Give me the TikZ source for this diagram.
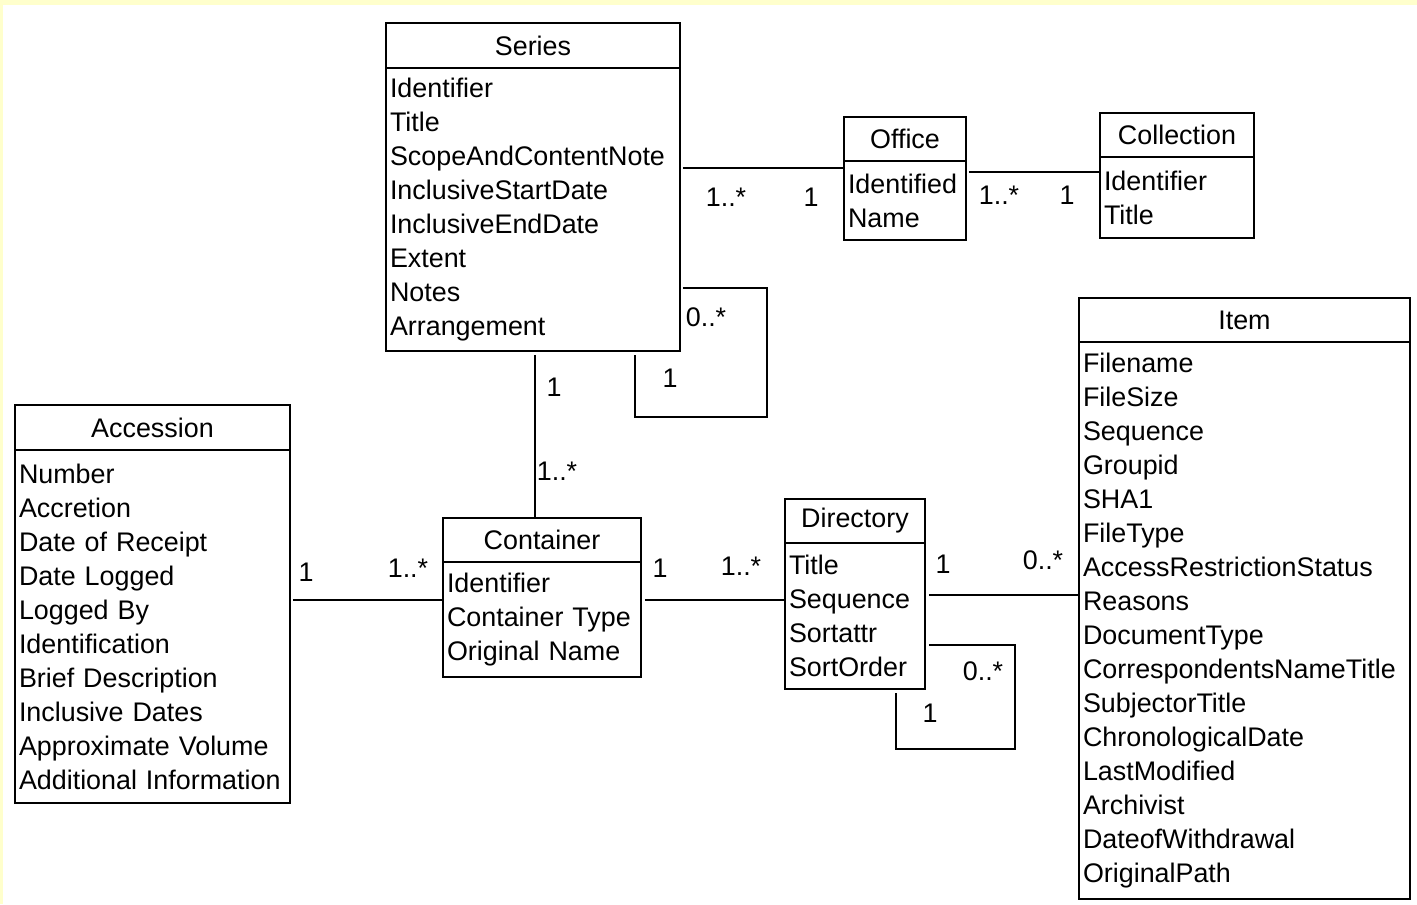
\documentclass[tikz,border=0pt]{standalone}
\usepackage{fontspec}
\setmainfont{Liberation Sans}
\usetikzlibrary{positioning, calc}

\definecolor{bgyellow}{RGB}{255,255,204}
\newcommand{\umlfont}{\fontsize{15.3}{19.35}\selectfont}

\tikzset{
    classhead/.style={draw, line width=1.1pt, anchor=north west, inner sep=0pt, outer sep=0pt, font=\umlfont},
    classbody/.style={draw, line width=1.1pt, anchor=north west, align=left, inner xsep=0.08cm, inner ysep=0pt, outer sep=0pt, font=\umlfont},
    assoc/.style={line width=1.1pt},
    mult/.style={font=\umlfont, inner sep=0pt},
}

\begin{document}
\begin{tikzpicture}[x=0.02cm, y=-0.02cm]
    \fill[bgyellow] (0,0) rectangle (1417,904); % Frame
    \fill[white] (3,5) rectangle (1417,904);
    \useasboundingbox (0,0) rectangle (1417,904);

    % Series
    \node[classhead, minimum width=5.88cm, minimum height=0.90cm] (series-h) at (386,23) {Series};
    \node[classbody, text width=5.72cm, minimum height=5.66cm] (series) at (series-h.south west)
        {Identifier\\Title\\ScopeAndContentNote\\InclusiveStartDate\\InclusiveEndDate\\Extent\\Notes\\Arrangement};

    % Office
    \node[classhead, minimum width=2.44cm, minimum height=0.88cm] (office-h) at (844,117) {Office};
    \node[classbody, text width=2.28cm, minimum height=1.58cm] (office) at (office-h.south west)
        {Identified\\Name};

    % Collection
    \node[classhead, minimum width=3.08cm, minimum height=0.88cm] (collection-h) at (1100,113) {Collection};
    \node[classbody, text width=2.92cm, minimum height=1.62cm] (collection) at (collection-h.south west)
        {Identifier\\Title};

    % Item
    \node[classhead, minimum width=6.62cm, minimum height=0.88cm] (item-h) at (1079,298) {Item};
    \node[classbody, text width=6.46cm, minimum height=11.14cm] (item) at (item-h.south west)
        {Filename\\FileSize\\Sequence\\Groupid\\SHA1\\FileType\\AccessRestrictionStatus\\Reasons\\DocumentType\\CorrespondentsNameTitle\\SubjectorTitle\\ChronologicalDate\\LastModified\\Archivist\\DateofWithdrawal\\OriginalPath};

    % Accession
    \node[classhead, minimum width=5.50cm, minimum height=0.90cm] (accession-h) at (15,405) {Accession};
    \node[classbody, text width=5.34cm, minimum height=7.06cm] (accession) at (accession-h.south west)
        {Number\\Accretion\\Date of Receipt\\Date Logged\\Logged By\\Identification\\Brief Description\\Inclusive Dates\\Approximate Volume\\Additional Information};

    % Container
    \node[classhead, minimum width=3.96cm, minimum height=0.88cm] (container-h) at (443,518) {Container};
    \node[classbody, text width=3.80cm, minimum height=2.30cm] (container) at (container-h.south west)
        {Identifier\\Container Type\\Original Name};

    % Directory
    \node[classhead, minimum width=2.80cm, minimum height=0.88cm] (directory-h) at (785,499) {Directory};
    \node[classbody, text width=2.64cm, minimum height=2.92cm] (directory) at (directory-h.south west)
        {Title\\Sequence\\Sortattr\\SortOrder};

    % Associations
    \draw[assoc] ($(series.east |- 0,168)+(3,0)$) -- (office.west |- 0,168);
    \draw[assoc] ($(office.east |- 0,172)+(3,0)$) -- (collection.west |- 0,172);
    \draw[assoc] ($(series.east |- 0,288)+(3,0)$) -- (767,288) -- (767,417) -- (635,417) -- ($(series.south -| 635,0)+(0,4)$); % Self loop
    \draw[assoc] ($(series.south -| 535,0)+(0,4)$) -- (container-h.north -| 535,0);
    \draw[assoc] ($(accession.east |- 0,600)+(3,0)$) -- (container.west |- 0,600);
    \draw[assoc] ($(container.east |- 0,600)+(4,0)$) -- (directory.west |- 0,600);
    \draw[assoc] ($(directory.east |- 0,595)+(4,0)$) -- (item.west |- 0,595);
    \draw[assoc] ($(directory.east |- 0,645)+(4,0)$) -- (1015,645) -- (1015,749) -- (896,749) -- ($(directory.south -| 896,0)+(0,4)$); % Self loop

    % Multiplicities
    \node[mult] (m-so1) at (726,197) {1..*};
    \node[mult] (m-so2) at (811,197) {1};
    \node[mult] (m-oc1) at (999,195) {1..*};
    \node[mult] (m-oc2) at (1067,195) {1};
    \node[mult] (m-ss1) at (706,317) {0..*};
    \node[mult] (m-ss2) at (670,378) {1};
    \node[mult] (m-sc1) at (554,387) {1};
    \node[mult] (m-sc2) at (557,471) {1..*};
    \node[mult] (m-ac1) at (306,572) {1};
    \node[mult] (m-ac2) at (408,568) {1..*};
    \node[mult] (m-cd1) at (660,568) {1};
    \node[mult] (m-cd2) at (741,566) {1..*};
    \node[mult] (m-di1) at (943,564) {1};
    \node[mult] (m-di2) at (1043,560) {0..*};
    \node[mult] (m-dd1) at (983,671) {0..*};
    \node[mult] (m-dd2) at (930,713) {1};
\end{tikzpicture}
\end{document}
